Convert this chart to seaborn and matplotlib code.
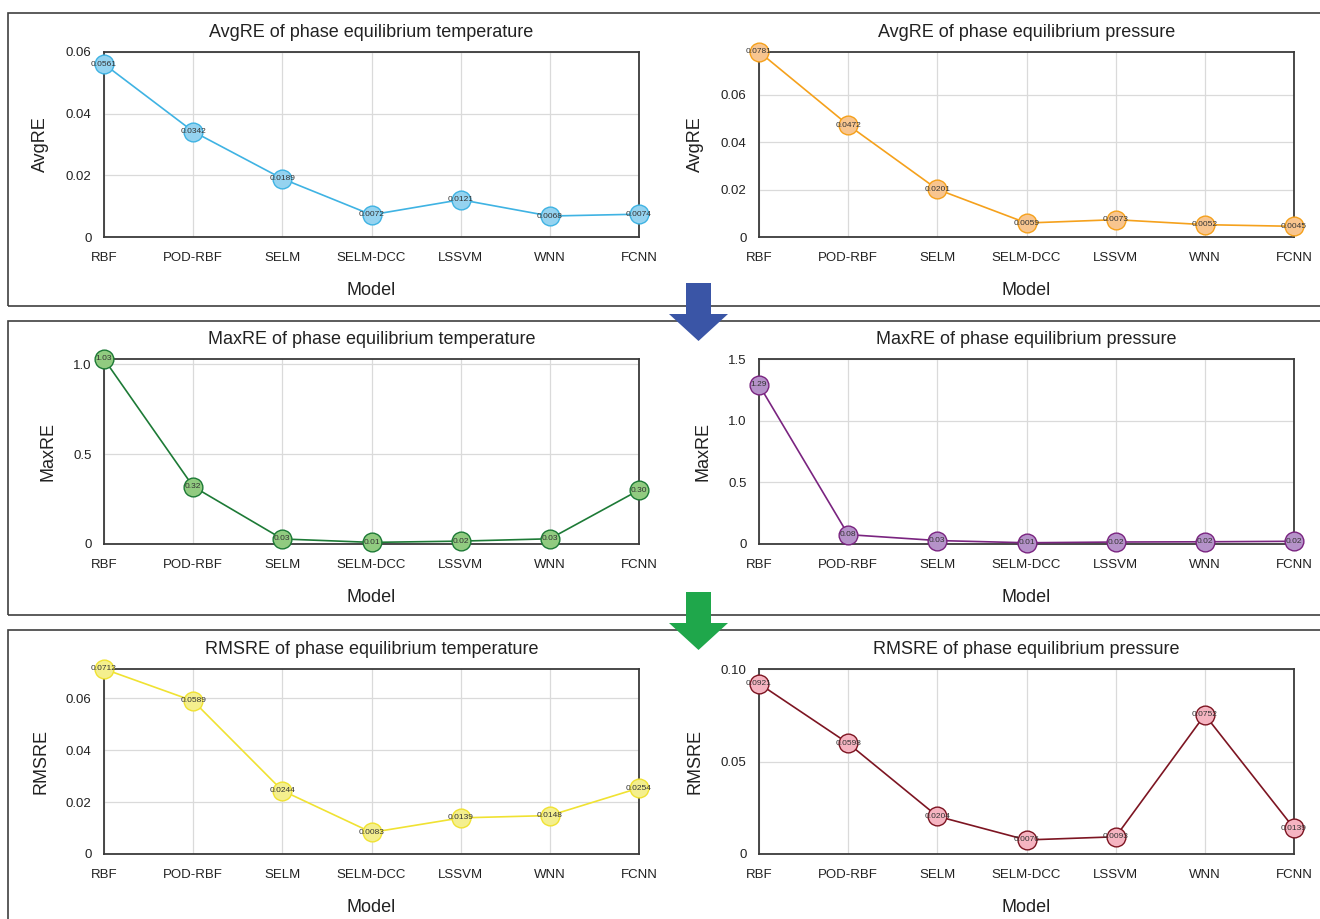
import numpy as np
import pandas as pd
import seaborn as sns
import matplotlib
matplotlib.use("Agg")
import matplotlib.pyplot as plt
from matplotlib.patches import Rectangle, Polygon
from matplotlib.ticker import FuncFormatter

models = ["RBF", "POD-RBF", "SELM", "SELM-DCC", "LSSVM", "WNN", "FCNN"]

avgre_temp = [0.0561, 0.0342, 0.0189, 0.0072, 0.0121, 0.0068, 0.0074]
avgre_pres = [0.0781, 0.0472, 0.0201, 0.0059, 0.0073, 0.0052, 0.0045]
maxre_temp = [1.03, 0.32, 0.028, 0.009, 0.016, 0.029, 0.30]
maxre_pres = [1.29, 0.076, 0.028, 0.010, 0.016, 0.018, 0.022]
rmsre_temp = [0.0712, 0.0589, 0.0244, 0.0083, 0.0139, 0.0148, 0.0254]
rmsre_pres = [0.0921, 0.0598, 0.0204, 0.0076, 0.0093, 0.0752, 0.0139]

titles = ["AvgRE of phase equilibrium temperature", "AvgRE of phase equilibrium pressure",
          "MaxRE of phase equilibrium temperature", "MaxRE of phase equilibrium pressure",
          "RMSRE of phase equilibrium temperature", "RMSRE of phase equilibrium pressure"]
ylabels = ["AvgRE", "AvgRE", "MaxRE", "MaxRE", "RMSRE", "RMSRE"]
series = [avgre_temp, avgre_pres, maxre_temp, maxre_pres, rmsre_temp, rmsre_pres]

# y axis setup per panel: top limit, ticks, decimals of tick text, decimals of point labels
ytops = [0.06, 0.078, 1.03, 1.5, 0.0712, 0.10]
yticks = [[0, 0.02, 0.04, 0.06], [0, 0.02, 0.04, 0.06], [0, 0.5, 1.0], [0, 0.5, 1.0, 1.5],
          [0, 0.02, 0.04, 0.06], [0, 0.05, 0.10]]
tick_dec = [2, 2, 1, 1, 2, 2]
label_dec = [4, 4, 2, 2, 4, 4]

line_colors = ["#3fb3e3", "#f5a11c", "#1d7a36", "#7a2480", "#f0e232", "#7d1522"]
fill_colors = ["#95d3f0", "#f8c58f", "#91cb80", "#b592c9", "#f4ef8e", "#f5b4c1"]

sns.set_style("whitegrid")
plt.rcParams['font.family'] = ['Liberation Sans', 'DejaVu Sans']

W, H = 1320, 919
fig = plt.figure(figsize=(W / 100, H / 100), dpi=100)

col_left = [104, 759]
col_width = 535
row_bottom = [237, 544, 854]
row_height = 185

for i in range(6):
    r, c = i // 2, i % 2
    ax = fig.add_axes([col_left[c] / W, 1 - row_bottom[r] / H, col_width / W, row_height / H])
    df = pd.DataFrame({"Model": models, "value": series[i]})
    sns.lineplot(data=df, x="Model", y="value", ax=ax, errorbar=None, sort=False,
                 color=line_colors[i], linewidth=1.2, marker="o", markersize=13.5,
                 markerfacecolor=fill_colors[i], markeredgecolor=line_colors[i],
                 markeredgewidth=1.0, clip_on=False, zorder=5)
    for k, v in enumerate(series[i]):
        ax.text(k, v, f"{v:.{label_dec[i]}f}", ha="center", va="center", fontsize=6,
                color="#333333", zorder=6, clip_on=False)

    ax.set_xlim(0, len(models) - 1)
    ax.set_ylim(0, ytops[i])
    ax.set_yticks(yticks[i])
    d = tick_dec[i]
    ax.yaxis.set_major_formatter(FuncFormatter(lambda v, p, d=d: "0" if v == 0 else f"{v:.{d}f}"))
    ax.grid(True, color="#dadada", linewidth=0.9)
    for s in ax.spines.values():
        s.set_color("#3a3a3a")
        s.set_linewidth(1.3)
    ax.tick_params(axis="both", which="both", length=4, width=1, color="#3a3a3a",
                   direction="out", labelsize=9.5, labelcolor="#222222")
    ax.tick_params(axis="x", pad=7)
    ax.tick_params(axis="y", pad=5)
    ax.set_title(titles[i], fontsize=13, pad=11, color="#222222")
    ax.set_xlabel("Model", fontsize=13, labelpad=13, color="#222222")
    ax.set_ylabel(ylabels[i], fontsize=13, labelpad=12, color="#222222")

# boxes around each row
box_tops = [13, 321, 630]
box_bottoms = [306, 615, 930]
for t, b in zip(box_tops, box_bottoms):
    fig.add_artist(Rectangle((8 / W, 1 - b / H), 1.0, (b - t) / H, transform=fig.transFigure,
                             fill=False, edgecolor="#404040", linewidth=1.2, zorder=1))

# arrows between rows
arrow_tops = [283, 592]
arrow_colors = ["#3a55a6", "#1fa74b"]
for top, col in zip(arrow_tops, arrow_colors):
    pts = [(686, top), (711, top), (711, top + 31), (728, top + 31), (698.5, top + 58),
           (669, top + 31), (686, top + 31)]
    fig.add_artist(Polygon([(x / W, 1 - y / H) for x, y in pts], closed=True,
                           transform=fig.transFigure, facecolor=col, edgecolor="none", zorder=10))

plt.savefig("out.png", dpi=100)
